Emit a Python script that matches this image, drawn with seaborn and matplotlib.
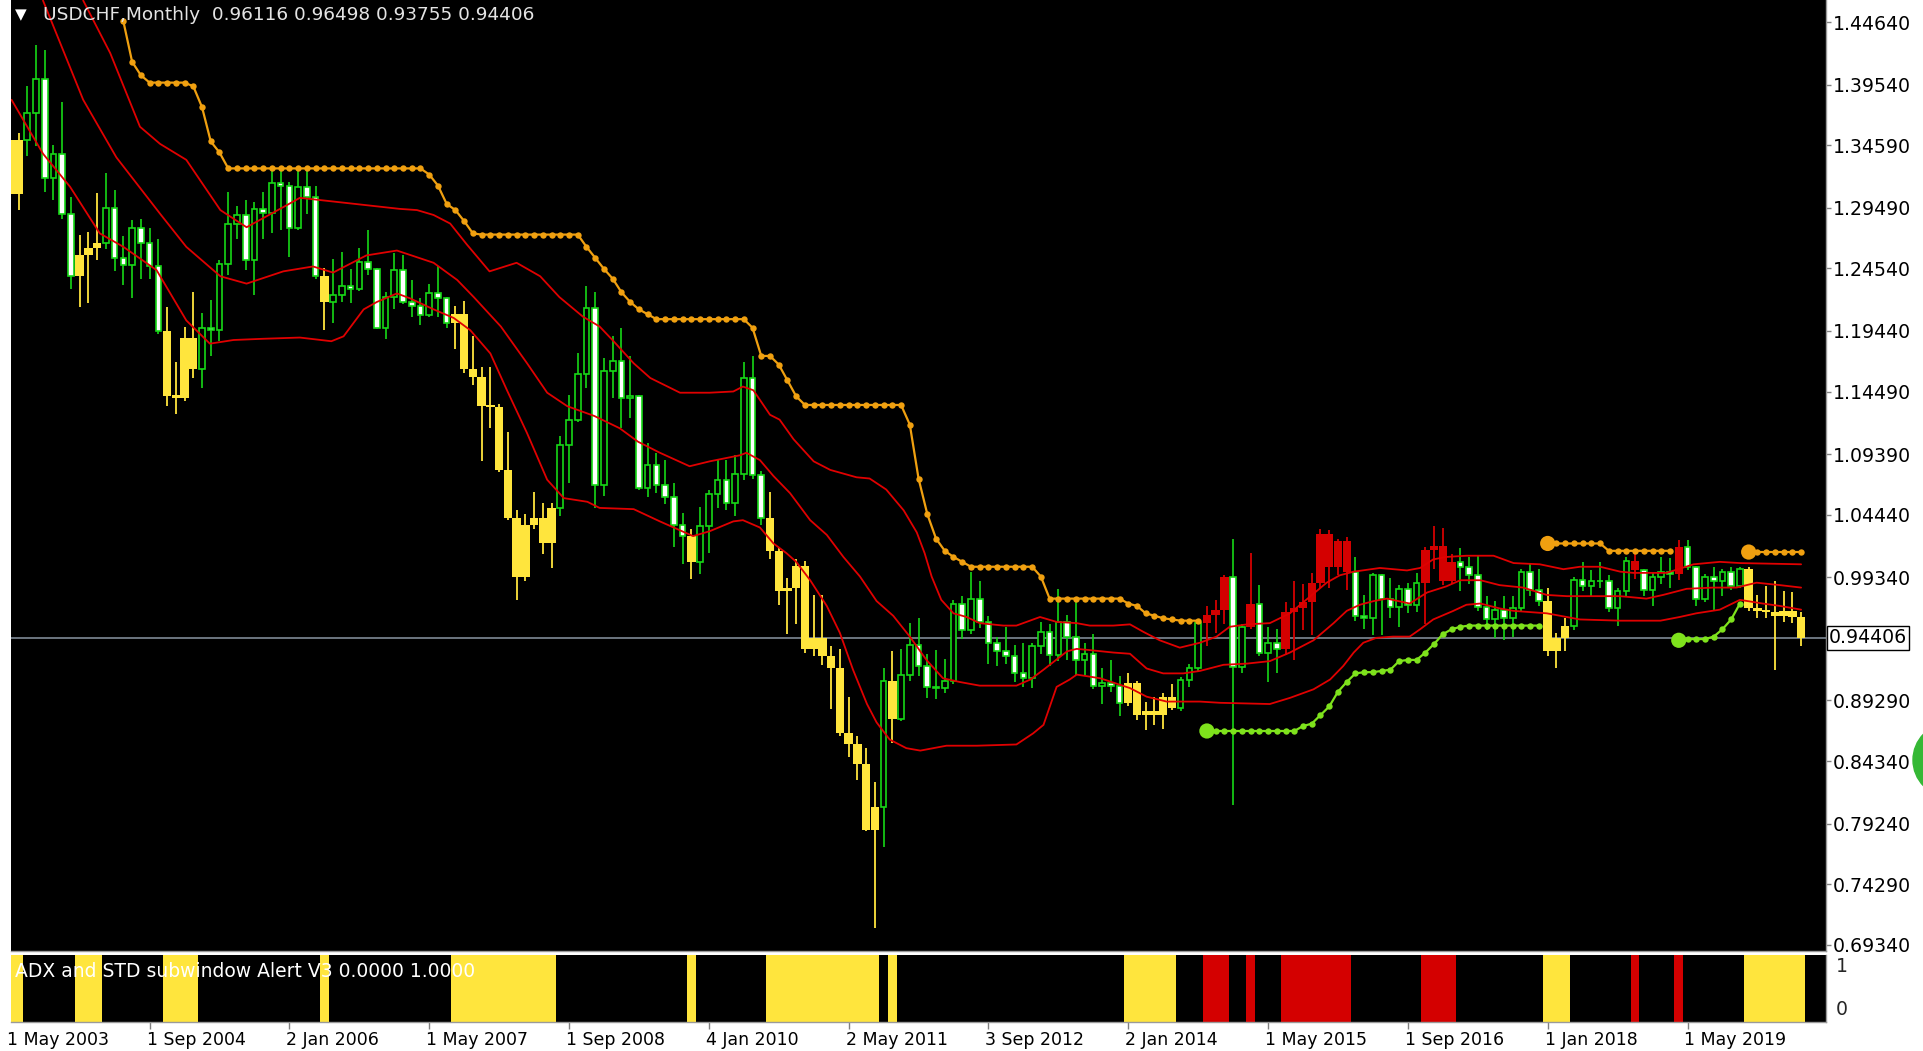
import numpy as np
import pandas as pd
import matplotlib.pyplot as plt
import matplotlib.transforms as mtrans
from matplotlib.patches import Ellipse
import seaborn as sns

# ---- monthly USDCHF candles, bar 0 = May 2003 ... bar 205 = Jun 2020 ----
opens = [1.350, 1.306, 1.350, 1.372, 1.400, 1.319, 1.339, 1.290, 1.239, 1.256,
         1.262, 1.266, 1.295, 1.254, 1.248, 1.278, 1.266, 1.247, 1.194, 1.141,
         1.140, 1.189, 1.163, 1.197, 1.195, 1.249, 1.282, 1.289, 1.252, 1.294,
         1.291, 1.315, 1.313, 1.278, 1.312, 1.304, 1.239, 1.218, 1.224, 1.231,
         1.229, 1.251, 1.245, 1.197, 1.222, 1.244, 1.218, 1.215, 1.207, 1.225,
         1.221, 1.201, 1.208, 1.163, 1.157, 1.133, 1.132, 1.081, 1.042, 0.994,
         1.036, 1.042, 1.021, 1.050, 1.101, 1.122, 1.159, 1.213, 1.069, 1.162,
         1.170, 1.140, 1.141, 1.066, 1.085, 1.069, 1.059, 1.036, 1.027, 1.006,
         1.035, 1.061, 1.073, 1.054, 1.078, 1.156, 1.077, 1.042, 1.015, 0.982,
         0.985, 1.003, 0.935, 0.944, 0.929, 0.919, 0.866, 0.857, 0.841, 0.787,
         0.806, 0.909, 0.878, 0.914, 0.938, 0.921, 0.904, 0.903, 0.909, 0.972,
         0.950, 0.976, 0.957, 0.940, 0.933, 0.929, 0.915, 0.911, 0.937, 0.949,
         0.930, 0.957, 0.945, 0.926, 0.931, 0.905, 0.907, 0.905, 0.891, 0.907,
         0.881, 0.884, 0.881, 0.896, 0.887, 0.910, 0.919, 0.956, 0.963, 0.967,
         0.994, 0.920, 0.953, 0.972, 0.932, 0.940, 0.935, 0.965, 0.968, 0.973,
         0.989, 1.029, 1.002, 1.023, 0.998, 0.962, 0.960, 0.995, 0.976, 0.969,
         0.984, 0.971, 0.989, 1.016, 1.019, 0.990, 1.006, 1.002, 0.995, 0.969,
         0.959, 0.967, 0.960, 0.968, 0.998, 0.983, 0.974, 0.933, 0.944, 0.954,
         0.991, 0.986, 0.990, 0.990, 0.968, 0.982, 1.007, 0.999, 0.983, 0.994,
         0.998, 0.996, 1.018, 1.002, 0.976, 0.994, 0.990, 0.998, 0.986, 1.000,
         0.968, 0.966, 0.965, 0.962, 0.966, 0.96116]
highs = [1.358, 1.356, 1.394, 1.428, 1.424, 1.346, 1.381, 1.304, 1.273, 1.275,
         1.307, 1.323, 1.309, 1.272, 1.285, 1.286, 1.278, 1.269, 1.214, 1.169,
         1.198, 1.226, 1.209, 1.220, 1.252, 1.308, 1.296, 1.301, 1.300, 1.308,
         1.326, 1.326, 1.316, 1.326, 1.326, 1.313, 1.246, 1.253, 1.259, 1.245,
         1.262, 1.277, 1.246, 1.226, 1.258, 1.256, 1.236, 1.221, 1.233, 1.247,
         1.222, 1.215, 1.219, 1.190, 1.165, 1.165, 1.135, 1.112, 1.048, 1.045,
         1.063, 1.054, 1.054, 1.109, 1.142, 1.176, 1.231, 1.226, 1.172, 1.190,
         1.197, 1.174, 1.142, 1.103, 1.095, 1.089, 1.070, 1.046, 1.033, 1.051,
         1.065, 1.090, 1.089, 1.093, 1.169, 1.174, 1.080, 1.063, 1.017, 0.993,
         1.008, 1.007, 0.979, 0.979, 0.937, 0.935, 0.896, 0.864, 0.854, 0.826,
         0.919, 0.933, 0.935, 0.956, 0.960, 0.931, 0.934, 0.927, 0.975, 0.978,
         0.998, 0.990, 0.962, 0.945, 0.953, 0.938, 0.940, 0.940, 0.957, 0.955,
         0.984, 0.963, 0.974, 0.940, 0.947, 0.919, 0.926, 0.913, 0.915, 0.909,
         0.892, 0.896, 0.899, 0.906, 0.912, 0.923, 0.958, 0.970, 0.975, 0.995,
         1.025, 0.955, 1.013, 0.987, 0.953, 0.951, 0.973, 0.990, 0.988, 0.997,
         1.033, 1.032, 1.025, 1.026, 1.010, 0.979, 0.997, 0.996, 0.993, 0.987,
         0.989, 0.997, 1.018, 1.035, 1.034, 1.012, 1.017, 1.010, 1.011, 0.978,
         0.974, 0.978, 0.978, 1.000, 1.004, 1.000, 0.985, 0.948, 0.960, 0.994,
         1.006, 0.999, 1.006, 0.995, 0.985, 1.010, 1.015, 1.000, 0.998, 1.010,
         1.009, 1.024, 1.024, 1.003, 0.996, 1.002, 1.000, 1.002, 1.002, 1.002,
         0.979, 0.986, 0.990, 0.982, 0.981, 0.96498]
lows = [1.296, 1.293, 1.337, 1.345, 1.308, 1.301, 1.286, 1.229, 1.214, 1.217,
        1.252, 1.261, 1.243, 1.232, 1.221, 1.237, 1.237, 1.192, 1.133, 1.127,
        1.137, 1.156, 1.148, 1.174, 1.186, 1.240, 1.269, 1.244, 1.224, 1.269,
        1.274, 1.277, 1.255, 1.277, 1.290, 1.237, 1.195, 1.201, 1.218, 1.217,
        1.227, 1.240, 1.196, 1.188, 1.212, 1.216, 1.206, 1.199, 1.206, 1.206,
        1.197, 1.180, 1.160, 1.150, 1.088, 1.115, 1.079, 1.040, 0.975, 0.990,
        1.033, 1.012, 1.001, 1.043, 1.070, 1.120, 1.148, 1.050, 1.060, 1.140,
        1.115, 1.123, 1.065, 1.059, 1.062, 1.053, 1.018, 1.004, 0.992, 0.996,
        1.013, 1.050, 1.048, 1.043, 1.073, 1.074, 1.036, 1.008, 0.971, 0.947,
        0.955, 0.932, 0.929, 0.922, 0.886, 0.864, 0.847, 0.828, 0.786, 0.707,
        0.773, 0.858, 0.876, 0.909, 0.913, 0.895, 0.894, 0.899, 0.906, 0.943,
        0.947, 0.952, 0.923, 0.921, 0.923, 0.908, 0.904, 0.903, 0.931, 0.921,
        0.925, 0.926, 0.914, 0.914, 0.902, 0.890, 0.900, 0.880, 0.888, 0.877,
        0.869, 0.873, 0.870, 0.885, 0.884, 0.904, 0.917, 0.937, 0.948, 0.955,
        0.808, 0.915, 0.951, 0.929, 0.908, 0.915, 0.930, 0.926, 0.950, 0.946,
        0.985, 0.985, 0.995, 0.983, 0.958, 0.951, 0.946, 0.946, 0.960, 0.953,
        0.964, 0.965, 0.955, 1.000, 0.987, 0.988, 0.982, 0.988, 0.966, 0.950,
        0.944, 0.942, 0.945, 0.965, 0.978, 0.970, 0.929, 0.919, 0.933, 0.950,
        0.982, 0.978, 0.985, 0.965, 0.954, 0.978, 0.992, 0.978, 0.970, 0.988,
        0.985, 0.991, 0.999, 0.970, 0.973, 0.967, 0.978, 0.983, 0.985, 0.966,
        0.960, 0.960, 0.918, 0.957, 0.956, 0.93755]
closes = [1.306, 1.350, 1.372, 1.400, 1.319, 1.339, 1.290, 1.239, 1.256, 1.262,
          1.266, 1.295, 1.254, 1.248, 1.278, 1.266, 1.247, 1.194, 1.141, 1.140,
          1.189, 1.163, 1.197, 1.195, 1.249, 1.282, 1.289, 1.252, 1.294, 1.291,
          1.315, 1.313, 1.278, 1.312, 1.304, 1.239, 1.218, 1.224, 1.231, 1.229,
          1.251, 1.245, 1.197, 1.222, 1.244, 1.218, 1.215, 1.207, 1.225, 1.221,
          1.201, 1.208, 1.163, 1.157, 1.133, 1.132, 1.081, 1.042, 0.994, 1.036,
          1.042, 1.021, 1.050, 1.101, 1.122, 1.159, 1.213, 1.069, 1.162, 1.170,
          1.140, 1.141, 1.066, 1.085, 1.069, 1.059, 1.036, 1.027, 1.006, 1.035,
          1.061, 1.073, 1.054, 1.078, 1.156, 1.077, 1.042, 1.015, 0.982, 0.985,
          1.003, 0.935, 0.944, 0.929, 0.919, 0.866, 0.857, 0.841, 0.787, 0.806,
          0.909, 0.878, 0.914, 0.938, 0.921, 0.904, 0.903, 0.909, 0.972, 0.950,
          0.976, 0.957, 0.940, 0.933, 0.929, 0.915, 0.911, 0.937, 0.949, 0.930,
          0.957, 0.945, 0.926, 0.931, 0.905, 0.907, 0.905, 0.891, 0.907, 0.881,
          0.884, 0.881, 0.896, 0.887, 0.910, 0.919, 0.956, 0.963, 0.967, 0.994,
          0.920, 0.953, 0.972, 0.932, 0.940, 0.935, 0.965, 0.968, 0.973, 0.989,
          1.029, 1.002, 1.023, 0.998, 0.962, 0.960, 0.995, 0.976, 0.969, 0.984,
          0.971, 0.989, 1.016, 1.019, 0.990, 1.006, 1.002, 0.995, 0.969, 0.959,
          0.967, 0.960, 0.968, 0.998, 0.983, 0.974, 0.933, 0.944, 0.954, 0.991,
          0.986, 0.990, 0.990, 0.968, 0.982, 1.007, 0.999, 0.983, 0.994, 0.998,
          0.996, 1.018, 1.002, 0.976, 0.994, 0.990, 0.998, 0.986, 1.000, 0.968,
          0.966, 0.965, 0.962, 0.966, 0.96116, 0.94406]

# bars flagged by the "ADX and STD subwindow Alert" indicator
yellow_bars = [0, 1, 8, 9, 10, 18, 19, 20, 21, 36, 51, 52, 53, 54, 55, 56, 57, 58,
               59, 60, 61, 62, 78, 87, 88, 89, 90, 91, 92, 93, 94, 95, 96, 97, 98,
               99, 101, 128, 129, 130, 131, 132, 133, 176, 177, 178, 199, 200, 201,
               202, 203, 204, 205]
red_bars = [137, 138, 139, 142, 146, 147, 148, 149, 150, 151, 152, 153, 162, 163,
            164, 165, 186, 191]

# red envelope lines (bar, price)
upper_x = [8.4, 11.5, 14.9, 17.2, 20.2, 24.1, 27.1, 31.7, 33.2, 37.0, 40.8, 44.6,
           46.6, 48.5, 50.4, 52.3, 54.9, 58.0, 60.7, 62.9, 65.6, 67.5, 69.1, 71.4,
           73.3, 76.7, 80.1, 82.8, 83.9, 85.1, 87.0, 88.1, 89.7, 92.0, 93.9, 96.9,
           98.4, 100.3, 102.3, 103.8, 104.7, 105.5, 106.6, 108.0, 109.5, 111.0,
           113.7, 115.2, 117.9, 119.8, 122.1, 123.6, 126.3, 128.2, 129.7, 131.6,
           133.9, 136.2, 138.1, 139.6, 141.6, 144.2, 146.5, 149.2, 150.7, 152.2,
           153.8, 156.8, 159.9, 161.4, 162.9, 164.4, 166.7, 169.8, 172.1, 175.1,
           177.8, 179.7, 182.0, 184.3, 185.8, 189.6, 192.7, 195.7, 198.0, 205.0]
upper_y = [1.464, 1.421, 1.361, 1.347, 1.334, 1.293, 1.279, 1.297, 1.303, 1.300,
           1.297, 1.294, 1.293, 1.289, 1.282, 1.265, 1.243, 1.250, 1.239, 1.222,
           1.206, 1.198, 1.186, 1.168, 1.156, 1.144, 1.144, 1.145, 1.149, 1.146,
           1.126, 1.122, 1.106, 1.088, 1.081, 1.075, 1.074, 1.065, 1.048, 1.030,
           1.013, 0.994, 0.975, 0.964, 0.961, 0.956, 0.954, 0.954, 0.961, 0.957,
           0.956, 0.954, 0.954, 0.955, 0.949, 0.942, 0.936, 0.940, 0.945, 0.953,
           0.955, 0.956, 0.964, 0.980, 0.989, 0.995, 0.998, 1.001, 0.999, 1.001,
           1.008, 1.010, 1.011, 1.011, 1.005, 1.004, 1.000, 1.002, 1.002, 0.998,
           0.997, 0.997, 1.004, 1.006, 1.005, 1.004]
middle_x = [3.8, 8.4, 12.2, 17.2, 20.2, 24.1, 27.1, 31.3, 34.7, 37.0, 40.8, 44.3,
            48.5, 51.2, 53.1, 56.2, 59.2, 61.5, 63.8, 66.9, 69.8, 71.9, 74.4, 77.8,
            80.1, 83.6, 84.3, 85.85, 87.4, 89.3, 91.6, 93.5, 95.4, 97.3, 99.2,
            101.1, 103.0, 104.9, 106.8, 108.7, 111.0, 115.2, 116.8, 118.3, 121.0,
            122.1, 123.6, 126.3, 128.2, 130.1, 132.0, 134.3, 136.2, 138.9, 141.6,
            144.2, 146.5, 149.2, 151.5, 153.0, 154.5, 156.1, 157.6, 160.2, 162.2,
            164.4, 166.0, 168.3, 170.5, 173.2, 175.9, 178.2, 184.3, 187.3, 189.2,
            191.9, 194.9, 197.6, 199.9, 202.6, 205.0]
middle_y = [1.464, 1.383, 1.336, 1.290, 1.263, 1.239, 1.233, 1.243, 1.247, 1.242,
            1.256, 1.260, 1.250, 1.236, 1.222, 1.198, 1.168, 1.144, 1.133, 1.125,
            1.115, 1.104, 1.095, 1.084, 1.088, 1.093, 1.095, 1.089, 1.076, 1.062,
            1.040, 1.028, 1.010, 0.994, 0.974, 0.962, 0.945, 0.926, 0.911, 0.908,
            0.905, 0.905, 0.910, 0.918, 0.933, 0.935, 0.934, 0.932, 0.931, 0.919,
            0.915, 0.915, 0.917, 0.922, 0.923, 0.925, 0.932, 0.942, 0.956, 0.966,
            0.971, 0.974, 0.976, 0.972, 0.981, 0.986, 0.991, 0.991, 0.987, 0.985,
            0.979, 0.978, 0.978, 0.976, 0.979, 0.984, 0.985, 0.985, 0.989, 0.987,
            0.985]
lower_x = [0.2, 3.8, 6.9, 10.3, 13.0, 16.8, 20.2, 22.9, 25.6, 29.0, 33.2, 36.8,
           38.2, 40.5, 42.0, 44.3, 45.8, 48.5, 50.8, 52.7, 55.0, 56.9, 59.2, 61.5,
           63.4, 66.1, 67.5, 71.4, 74.4, 78.2, 80.1, 82.8, 83.9, 85.85, 87.4, 88.9,
           90.0, 91.6, 93.5, 95.0, 96.5, 98.1, 99.2, 100.7, 102.6, 104.2, 107.2,
           110.7, 115.2, 117.1, 118.3, 119.8, 121.3, 122.1, 124.8, 128.2, 130.1,
           132.4, 136.2, 138.5, 144.2, 146.5, 149.2, 151.1, 152.6, 153.8, 154.9,
           156.4, 158.3, 160.2, 161.4, 162.9, 165.2, 166.7, 168.3, 170.5, 172.1,
           175.9, 179.7, 184.3, 188.9, 191.1, 193.0, 195.7, 198.0, 200.6, 202.6,
           205.0]
lower_y = [1.383, 1.339, 1.312, 1.274, 1.263, 1.244, 1.203, 1.184, 1.187, 1.188,
           1.189, 1.186, 1.190, 1.212, 1.218, 1.225, 1.221, 1.212, 1.205, 1.195,
           1.176, 1.146, 1.111, 1.073, 1.058, 1.055, 1.050, 1.049, 1.039, 1.027,
           1.031, 1.039, 1.040, 1.034, 1.021, 1.013, 1.006, 0.991, 0.970, 0.948,
           0.918, 0.890, 0.875, 0.861, 0.854, 0.852, 0.856, 0.856, 0.857, 0.866,
           0.873, 0.904, 0.910, 0.914, 0.911, 0.903, 0.896, 0.892, 0.892, 0.891,
           0.890, 0.895, 0.902, 0.910, 0.921, 0.932, 0.940, 0.944, 0.945, 0.945,
           0.951, 0.959, 0.966, 0.971, 0.972, 0.968, 0.966, 0.964, 0.959, 0.958,
           0.958, 0.961, 0.964, 0.967, 0.975, 0.972, 0.970, 0.967]

# dotted trailing-stop segments (first bar, values per bar)
stop_a_start, stop_a = 13, [
    1.447, 1.414, 1.403, 1.397, 1.397, 1.397, 1.397, 1.397, 1.394, 1.377, 1.349, 1.340,
    1.327, 1.327, 1.327, 1.327, 1.327, 1.327, 1.327, 1.327, 1.327, 1.327, 1.327, 1.327,
    1.327, 1.327, 1.327, 1.327, 1.327, 1.327, 1.327, 1.327, 1.327, 1.327, 1.327,
    1.322, 1.313, 1.298, 1.293, 1.284, 1.274,
    1.273, 1.273, 1.273, 1.273, 1.273, 1.273, 1.273, 1.273, 1.273, 1.273, 1.273, 1.273,
    1.263, 1.254, 1.245, 1.237, 1.226, 1.218, 1.212, 1.208,
    1.204, 1.204, 1.204, 1.204, 1.204, 1.204, 1.204, 1.204, 1.204, 1.204, 1.204,
    1.197, 1.174, 1.174, 1.167, 1.154, 1.141,
    1.134, 1.134, 1.134, 1.134, 1.134, 1.134, 1.134, 1.134, 1.134, 1.134, 1.134, 1.134,
    1.118, 1.074, 1.045, 1.025, 1.015, 1.010, 1.006,
    1.002, 1.002, 1.002, 1.002, 1.002, 1.002, 1.002, 1.002, 0.994,
    0.976, 0.976, 0.976, 0.976, 0.976, 0.976, 0.976, 0.976, 0.976,
    0.972, 0.970, 0.964, 0.962, 0.960, 0.959, 0.958, 0.958, 0.958]
stop_b_start, stop_b = 137, [
    0.868, 0.868, 0.868, 0.868, 0.868, 0.868, 0.868, 0.868, 0.868, 0.868, 0.868,
    0.872, 0.874, 0.881, 0.888, 0.900, 0.908, 0.915, 0.916, 0.916, 0.917, 0.918,
    0.925, 0.926, 0.926, 0.932, 0.939, 0.947, 0.951, 0.953,
    0.954, 0.954, 0.954, 0.954, 0.954, 0.954, 0.954, 0.954, 0.954]
stop_c_start, stop_c = 176, [1.021, 1.021, 1.021, 1.021, 1.021, 1.021, 1.021,
                             1.015, 1.015, 1.015, 1.015, 1.015, 1.015, 1.015, 1.015]
stop_d_start, stop_d = 191, [0.942, 0.943, 0.943, 0.943, 0.945, 0.951, 0.959, 0.972]
stop_e_start, stop_e = 199, [1.014, 1.014, 1.014, 1.014, 1.014, 1.014, 1.014]

last_price = 0.94406
price_ticks = [1.4464, 1.3954, 1.3459, 1.2949, 1.2454, 1.1944, 1.1449, 1.0939,
               1.0444, 0.9934, 0.8929, 0.8434, 0.7924, 0.7429, 0.6934]
date_bars = [0, 16, 32, 48, 64, 80, 96, 112, 128, 144, 160, 176, 192]
date_labels = ['1 May 2003', '1 Sep 2004', '2 Jan 2006', '1 May 2007', '1 Sep 2008',
               '4 Jan 2010', '2 May 2011', '3 Sep 2012', '2 Jan 2014', '1 May 2015',
               '1 Sep 2016', '1 Jan 2018', '1 May 2019']

# ---- colours ----
LIME = '#16d816'
YELLOW = '#ffe53d'
RED = '#d40000'
BAND = '#e00000'
ORANGE = '#f0a010'
CHART = '#7ee21c'
GRID = '#8a96a2'

sns.set_style('ticks')
plt.rcParams['font.family'] = ['DejaVu Sans']

df = pd.DataFrame({'bar': np.arange(len(closes)), 'open': opens, 'high': highs,
                   'low': lows, 'close': closes})
df['signal'] = 0
df.loc[df.bar.isin(yellow_bars), 'signal'] = 1
df.loc[df.bar.isin(red_bars), 'signal'] = 2

W, H = 1923, 1051
fig = plt.figure(figsize=(W / 100, H / 100), dpi=100, facecolor='white')
ax = fig.add_axes([11 / W, 1 - 951 / H, 1815 / W, 951 / H])
ax2 = fig.add_axes([11 / W, 1 - 1022 / H, 1815 / W, 67 / H])
for a in (ax, ax2):
    a.set_facecolor('black')
    a.set_xlim(0.14, 207.85)
    for s in ('left', 'top'):
        a.spines[s].set_visible(False)
    for s in ('right', 'bottom'):
        a.spines[s].set_color('#9a9a9a')
        a.spines[s].set_linewidth(1)

# bid line
ax.axhline(last_price, color=GRID, lw=1.1, zorder=1)

# plain candles
plain = df[df.signal == 0]
bull = plain[plain.close >= plain.open]
bear = plain[plain.close < plain.open]
ax.vlines(plain.bar, plain.low, plain.high, color=LIME, lw=1.2, zorder=2)
ax.bar(bull.bar, (bull.close - bull.open).clip(lower=0.0006), bottom=bull.open,
       width=0.64, color='black', edgecolor=LIME, linewidth=1.2, zorder=3)
ax.bar(bear.bar, (bear.open - bear.close).clip(lower=0.0006), bottom=bear.close,
       width=0.64, color='white', edgecolor=LIME, linewidth=1.2, zorder=3)

# indicator-painted candles
for code, colr in [(1, YELLOW), (2, RED)]:
    sub = df[df.signal == code]
    lo = np.minimum(sub.open, sub.close)
    hi = np.maximum(sub.open, sub.close)
    ax.vlines(sub.bar, sub.low, sub.high, color=colr, lw=1.3, zorder=4)
    ax.bar(sub.bar, np.maximum(hi - lo, 0.002), bottom=lo, width=0.96,
           color=colr, linewidth=0, zorder=4)

# red envelope
for xs, ys in [(upper_x, upper_y), (middle_x, middle_y), (lower_x, lower_y)]:
    sns.lineplot(x=xs, y=ys, ax=ax, color=BAND, linewidth=1.3, zorder=5)

# dotted trailing stop
segments = [(stop_a_start, stop_a, ORANGE, False), (stop_b_start, stop_b, CHART, True),
            (stop_c_start, stop_c, ORANGE, True), (stop_d_start, stop_d, CHART, True),
            (stop_e_start, stop_e, ORANGE, True)]
for start, vals, colr, big in segments:
    xs = np.arange(start, start + len(vals))
    sns.lineplot(x=xs, y=vals, ax=ax, color=colr, linewidth=1.6, marker='o',
                 markersize=4.6, markeredgewidth=0, zorder=6)
    if big:
        sns.scatterplot(x=[xs[0]], y=[vals[0]], ax=ax, color=colr, s=120,
                        edgecolor='none', zorder=7)

ax.set_ylim(0.6885, 1.4644)
ax.set_xticks([])
ax.set_xlabel('')
ax.set_ylabel('')
ax.yaxis.tick_right()
ax.set_yticks(price_ticks)
ax.set_yticklabels([f'{v:.5f}' for v in price_ticks])
ax.tick_params(axis='y', length=3.5, width=1, color='#808080', labelsize=13.6,
               labelcolor='black', pad=1.5)

ax.text(1.0016, last_price, f'{last_price:.5f}', fontsize=13.6, color='black',
        va='center', ha='left',
        transform=mtrans.blended_transform_factory(ax.transAxes, ax.transData),
        bbox=dict(boxstyle='square,pad=0.12', fc='white', ec='black', lw=1),
        clip_on=False, zorder=10)

# subwindow
ax2.bar(yellow_bars, [1] * len(yellow_bars), width=1.0, color=YELLOW, linewidth=0)
ax2.bar(red_bars, [1] * len(red_bars), width=1.0, color=RED, linewidth=0)
ax2.set_ylim(0, 1)
ax2.set_yticks([])
ax2.set_xticks(date_bars[1:])
ax2.tick_params(axis='x', length=5, width=1, color='#808080', labelbottom=False)
ax2.text(0.0024, 0.76, 'ADX and STD subwindow Alert V3 0.0000 1.0000', color='white',
         fontsize=13.5, va='center', ha='left', transform=ax2.transAxes)
ax2.text(1.0055, 0.83, '1', fontsize=13.6, va='center', ha='left',
         transform=ax2.transAxes, clip_on=False)
ax2.text(1.0055, 0.19, '0', fontsize=13.6, va='center', ha='left',
         transform=ax2.transAxes, clip_on=False)
xt = mtrans.blended_transform_factory(ax2.transData, ax2.transAxes)
for b, lab in zip(date_bars, date_labels):
    ax2.text(b - 0.35, -0.27, lab, fontsize=12.5, va='center', ha='left',
             color='black', transform=xt, clip_on=False)

# header
fig.text(15 / W, 1 - 15 / H, '\u25bc', color='white', fontsize=11, va='center')
fig.text(43 / W, 1 - 15 / H, 'USDCHF,Monthly  0.96116 0.96498 0.93755 0.94406',
         color='#e4e4e4', fontsize=13.3, va='center', ha='left')

# trade button peeking in at the right edge
fig.add_artist(Ellipse((1950 / W, 1 - 760 / H), 74 / W, 74 / H,
                       transform=fig.transFigure, color='#35b835'))

fig.savefig('out.png', dpi=100, facecolor='white')
